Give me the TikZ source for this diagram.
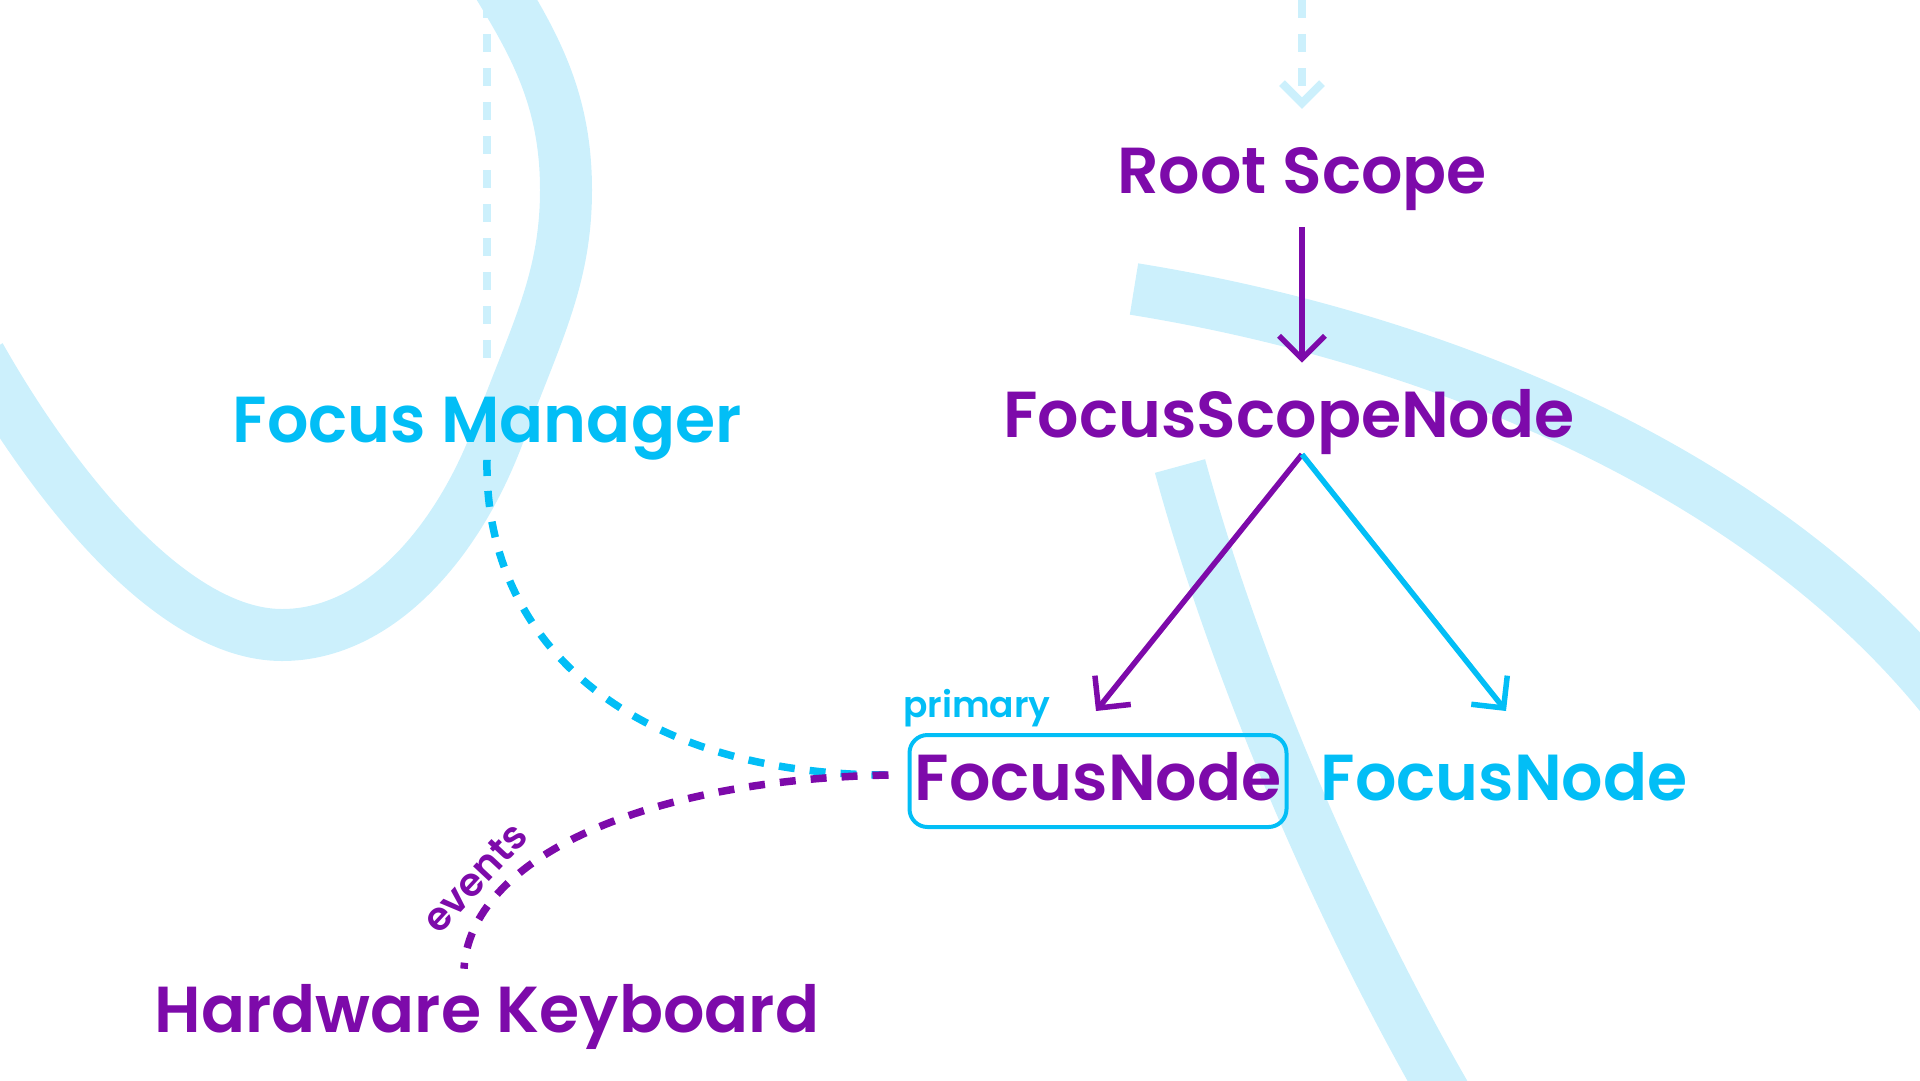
\documentclass[tikz,border=0pt]{standalone}
\usepackage{fontspec}
\setmainfont{Poppins}[UprightFont=* SemiBold]
\usetikzlibrary{arrows.meta}
\definecolor{fpurple}{RGB}{125,10,170}
\definecolor{fcyan}{RGB}{2,190,246}
\definecolor{fpale}{RGB}{204,240,252}

\begin{document}
\begin{tikzpicture}[x=1pt, y=1pt,
    big/.style={font=\fontsize{65}{70}\selectfont, inner sep=0pt, anchor=base},
    small/.style={font=\fontsize{36}{40}\selectfont, inner sep=0pt, anchor=base},
    ribbon/.style={fpale, line width=52pt},
    faint/.style={fpale, line width=8pt, dash pattern=on 18pt off 16pt},
    dots/.style={line width=7.5pt, dash pattern=on 16pt off 15pt},
    tip/.style={-{Straight Barb[length=23pt, width=46pt]}, line width=5.5pt}]
  \useasboundingbox (0,0) rectangle (1920,-1080);

  % background ribbons
  \draw[ribbon] (-20,-356) .. controls (50,-480) and (170,-635) .. (282,-635)
    .. controls (380,-635) and (460,-540) .. (500,-430)
    .. controls (535,-335) and (566,-280) .. (566,-190)
    .. controls (566,-100) and (535,-45) .. (495,20);
  \draw[ribbon] (1134,-289) .. controls (1450,-340) and (1780,-480) .. (1960,-720);
  \draw[ribbon] (1180,-466) .. controls (1230,-650) and (1330,-900) .. (1460,-1120);

  \node[big, fpurple] (root) at (1302,-193) {Root Scope};
  \node[big, fpurple] (scope) at (1289,-437) {FocusScopeNode};
  \node[big, fcyan] (manager) at (487,-442) {Focus Manager};
  \node[big, fpurple, draw=fcyan, line width=4pt, rounded corners=18pt,
        text height=65pt, text depth=27pt, minimum width=377pt] (focused) at (1098,-800) {FocusNode};
  \node[big, fcyan] (sibling) at (1504,-800) {FocusNode};
  \node[big, fpurple] (keyboard) at (487,-1032) {Hardware Keyboard};
  \node[small, fcyan] (primary) at (977,-717) {primary};
  \node[small, fpurple, font=\fontsize{39}{42}\selectfont, rotate=47, anchor=center] (events) at (475,-878) {events};

  \coordinate (above) at (1302,0);
  \coordinate (fork) at (root.south |- scope.south);
  \coordinate (lefttip) at ([shift={(-2pt,22pt)}]focused.north);
  \coordinate (righttip) at ([xshift=2pt]sibling.north |- lefttip);
  \coordinate (entry) at ([xshift=-19pt, yshift=6pt]focused.west);
  \coordinate (kbtop) at ([xshift=-23pt, yshift=15pt]keyboard.north);

  \draw[faint, -{Straight Barb[length=20pt, width=40pt]}, shorten >=38pt] (above) -- (root.north);
  \draw[faint, shorten >=34pt] (manager.north |- 0,0) -- (manager.north);
  \draw[tip, fpurple, shorten <=17pt, shorten >=26pt] (root.south) -- (root.south |- scope.north);
  \draw[tip, fpurple] (fork) -- (lefttip);
  \draw[tip, fcyan] (fork) -- (righttip);

  \draw[dots, fcyan] (manager.south) .. controls (484,-650) and (640,-775) .. (entry);
  \draw[dots, fpurple] (entry) .. controls (640,-780) and (470,-860) .. (kbtop);
\end{tikzpicture}
\end{document}
